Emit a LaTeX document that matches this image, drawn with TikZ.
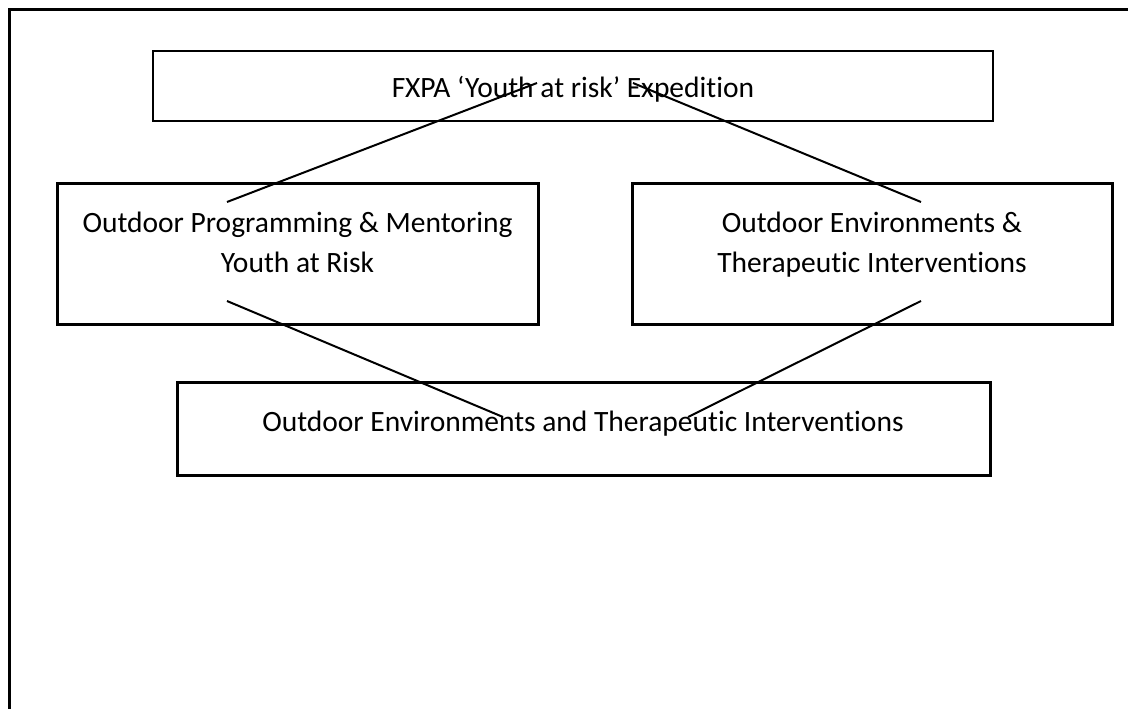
\documentclass[tikz,border=0pt]{standalone}
\usepackage{fontspec}
\setmainfont[Ligatures=NoCommon]{Carlito}
\begin{document}
\begin{tikzpicture}[x=1pt,y=-1pt,
  boxthin/.style={draw,line width=1.8pt},
  boxthick/.style={draw,line width=3pt},
  label/.style={anchor=base,inner sep=0pt,font=\fontsize{29.5}{40}\selectfont},
  link/.style={draw,line width=2pt}]
\useasboundingbox (0,0) rectangle (1128,709);
% page frame (only top and left edges fall inside the view)
\draw[line width=3pt] (9.5,709) -- (9.5,10) -- (1128,10);
% boxes
\draw[boxthin]  (153,51) rectangle (993,121);
\draw[boxthick] (57,183) rectangle (538,324);
\draw[boxthick] (632,183) rectangle (1112,324);
\draw[boxthick] (177,382) rectangle (990,475);
% texts
\node[label] (top) at (573,98) {FXPA ‘Youth at risk’ Expedition};
\node[label] (left1) at (297.5,232) {Outdoor Programming \& Mentoring};
\node[label] (left2) at (297.5,272) {Youth at Risk};
\node[label] (right1) at (872,232) {Outdoor Environments \&};
\node[label] (right2) at (872,272) {Therapeutic Interventions};
\node[label] (bottom) at (583,431) {Outdoor Environments and Therapeutic Interventions};
% connector end points
\coordinate (a1) at (227,202);
\coordinate (a2) at (537,83);
\coordinate (b1) at (633,83);
\coordinate (b2) at (921,202);
\coordinate (c1) at (227,301);
\coordinate (c2) at (503,417);
\coordinate (d1) at (921,301);
\coordinate (d2) at (688,417);
\draw[link] (a1) -- (a2);
\draw[link] (b1) -- (b2);
\draw[link] (c1) -- (c2);
\draw[link] (d1) -- (d2);
\end{tikzpicture}
\end{document}
